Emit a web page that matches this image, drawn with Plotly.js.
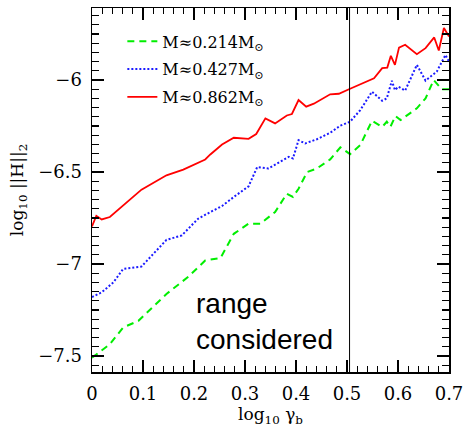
<!DOCTYPE html>
<html>
<head>
<meta charset="utf-8">
<script src="https://cdn.plot.ly/plotly-3.0.1.min.js"></script>
<style>
html,body{margin:0;padding:0;background:#fff;}
#chart{width:464px;height:427px;}
</style>
</head>
<body>
<div id="chart"></div>
<script>
// ---- data ----
const seriesNames = ["M≈0.214M<sub>⊙</sub>", "M≈0.427M<sub>⊙</sub>", "M≈0.862M<sub>⊙</sub>"];

const xLow = [0, 0.035, 0.061, 0.091, 0.146, 0.189, 0.222, 0.252, 0.278, 0.307, 0.330, 0.359, 0.382, 0.394, 0.405, 0.422, 0.441, 0.467, 0.487, 0.506, 0.526, 0.549, 0.569, 0.578, 0.585, 0.595, 0.605, 0.637, 0.654, 0.670, 0.686, 0.700];
const yLow = [-7.509, -7.436, -7.345, -7.309, -7.163, -7.069, -6.981, -6.967, -6.836, -6.781, -6.781, -6.718, -6.618, -6.636, -6.591, -6.500, -6.481, -6.432, -6.366, -6.403, -6.354, -6.222, -6.255, -6.227, -6.255, -6.196, -6.218, -6.154, -6.100, -6.000, -6.051, -6.051];

const xMid = [0, 0.019, 0.042, 0.061, 0.097, 0.127, 0.146, 0.176, 0.208, 0.232, 0.255, 0.278, 0.307, 0.324, 0.346, 0.369, 0.386, 0.394, 0.405, 0.418, 0.441, 0.467, 0.487, 0.506, 0.526, 0.549, 0.569, 0.578, 0.588, 0.594, 0.601, 0.614, 0.637, 0.654, 0.676, 0.693, 0.700];
const yMid = [-7.180, -7.154, -7.100, -7.027, -7.014, -6.927, -6.869, -6.845, -6.754, -6.718, -6.685, -6.636, -6.578, -6.473, -6.481, -6.445, -6.418, -6.427, -6.327, -6.345, -6.322, -6.287, -6.248, -6.227, -6.164, -6.064, -6.113, -6.100, -6.004, -6.055, -6.036, -6.058, -5.918, -6.004, -5.955, -5.864, -5.900];

const xHigh = [0, 0.0085, 0.019, 0.035, 0.097, 0.146, 0.179, 0.222, 0.232, 0.255, 0.278, 0.307, 0.322, 0.340, 0.359, 0.382, 0.392, 0.405, 0.420, 0.435, 0.467, 0.484, 0.505, 0.527, 0.553, 0.569, 0.579, 0.586, 0.594, 0.602, 0.614, 0.637, 0.654, 0.671, 0.680, 0.690, 0.700];
const yHigh = [-6.796, -6.738, -6.758, -6.745, -6.596, -6.518, -6.487, -6.432, -6.405, -6.351, -6.314, -6.320, -6.294, -6.209, -6.236, -6.193, -6.185, -6.109, -6.145, -6.129, -6.078, -6.075, -6.049, -6.024, -5.991, -5.936, -5.933, -5.869, -5.918, -5.824, -5.809, -5.860, -5.827, -5.769, -5.840, -5.718, -5.764];

const rangeBoundary = 0.505;
const xRange = [0, 0.7];
const yRange = [-7.587, -5.609];
const xTickVals = [0, 0.1, 0.2, 0.3, 0.4, 0.5, 0.6, 0.7];
const yTickVals = [-7.5, -7, -6.5, -6];
const noteText = "range<br>considered";

// ---- chart ----
const serif = "DejaVu Serif";
const traces = [
  {x: xLow, y: yLow, name: seriesNames[0], mode: "lines", legendgroup: "a",
   line: {color: "#00ee00", width: 2, dash: "7px,5px"}},
  {x: xMid, y: yMid, name: seriesNames[1], mode: "lines", legendgroup: "b",
   line: {color: "#1a1aff", width: 2, dash: "2px,2px"}},
  {x: xHigh, y: yHigh, name: seriesNames[2], mode: "lines", legendgroup: "c",
   line: {color: "#ff0000", width: 1.8}},
  // invisible helper to activate mirror axes (top/right tick frame)
  {x: xRange, y: yRange, xaxis: "x2", yaxis: "y2", mode: "markers", showlegend: false,
   hoverinfo: "skip", marker: {opacity: 0}}
];

const axisCommon = {
  showgrid: false, zeroline: false, showline: true, linecolor: "#000", linewidth: 1.5,
  ticks: "inside", ticklen: 12, tickwidth: 1.2, tickcolor: "#000",
  tickfont: {family: serif, size: 18, color: "#000"}
};
const xMinor = {dtick: 0.02, tick0: 0, ticks: "inside", ticklen: 6, tickwidth: 1.2, tickcolor: "#000"};
const yMinor = {dtick: 0.05, tick0: -8, ticks: "inside", ticklen: 7, tickwidth: 1.2, tickcolor: "#000"};

const layout = {
  width: 464, height: 427,
  margin: {l: 92, r: 15, t: 8, b: 55},
  paper_bgcolor: "#fff", plot_bgcolor: "#fff",
  showlegend: true,
  legend: {x: 0.085, y: 0.955, xanchor: "left", yanchor: "top", bgcolor: "rgba(0,0,0,0)",
           font: {family: serif, size: 16, color: "#000"}, traceorder: "grouped",
           tracegroupgap: 4, itemwidth: 30},
  xaxis: Object.assign({}, axisCommon, {
    range: xRange, tickvals: xTickVals, ticktext: xTickVals.map(v => String(v)),
    ticklabelstandoff: 5, minor: xMinor,
    title: {text: "log<sub>10</sub> γ<sub>b</sub>", font: {family: serif, size: 17, color: "#000"}, standoff: 6}
  }),
  yaxis: Object.assign({}, axisCommon, {
    range: yRange, tickvals: yTickVals,
    ticklabelstandoff: 5, minor: yMinor,
    title: {text: "log<sub>10</sub> ||H||<sub>2</sub>", font: {family: serif, size: 17, color: "#000"}, standoff: 10}
  }),
  xaxis2: Object.assign({}, axisCommon, {
    overlaying: "x", side: "top", anchor: "y2", range: xRange, tickvals: xTickVals,
    showticklabels: false, minor: xMinor
  }),
  yaxis2: Object.assign({}, axisCommon, {
    overlaying: "y", side: "right", anchor: "x2", range: yRange, tickvals: yTickVals,
    showticklabels: false, minor: yMinor
  }),
  shapes: [
    {type: "line", xref: "x", yref: "paper", x0: rangeBoundary, x1: rangeBoundary, y0: 0, y1: 1,
     line: {color: "#000", width: 1}}
  ],
  annotations: [
    {xref: "x", yref: "y", x: 0.2, y: -7.31, text: noteText, showarrow: false,
     xanchor: "left", yanchor: "middle", align: "left",
     font: {family: "Liberation Sans", size: 28, color: "#000"}}
  ]
};

Plotly.newPlot("chart", traces, layout, {staticPlot: true, displayModeBar: false});
</script>
</body>
</html>
